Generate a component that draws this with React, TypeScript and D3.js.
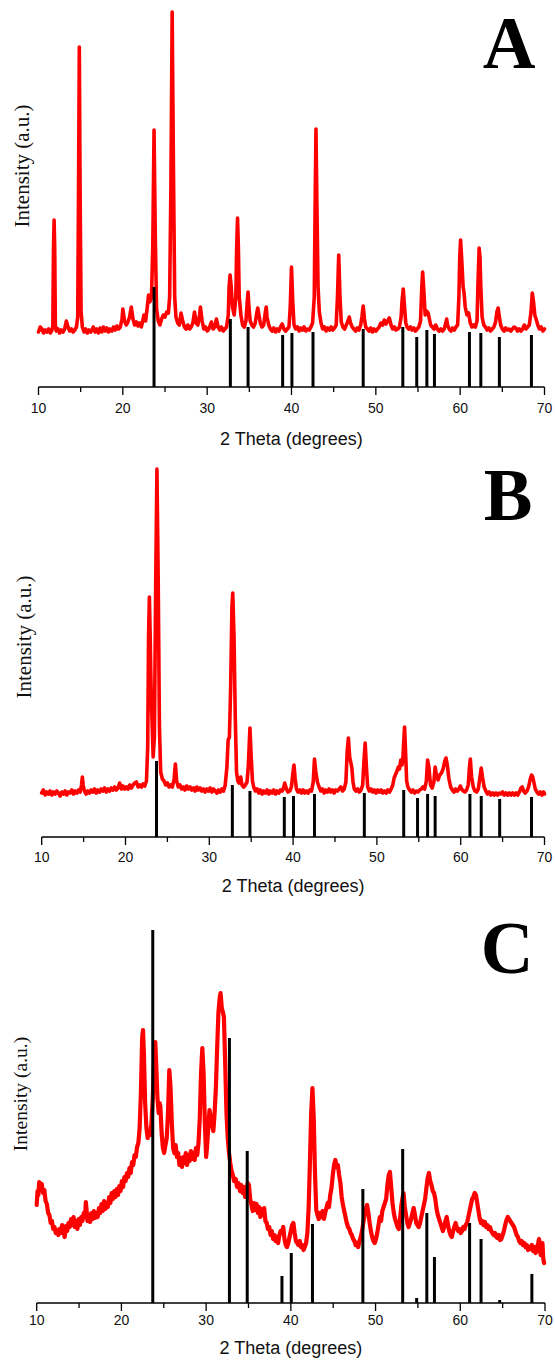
import React from "react";
import * as d3 from "d3";

// ---- data ----
const majorTicks = [10, 20, 30, 40, 50, 60, 70];
const minorTicks = [15, 25, 35, 45, 55, 65];
const panelLabels = ["A", "B", "C"];
const xTitle = "2 Theta (degrees)";
const yTitle = "Intensity (a.u.)";

// reference (stick) pattern positions, 2θ
const stickTheta = [23.7, 32.75, 34.85, 38.95, 40.05, 42.55, 48.5, 53.2, 54.85, 56.05, 56.95, 61.1, 62.45, 64.65, 68.45];
const stickA = [100, 68, 60, 52, 54, 55, 58, 60, 50, 57, 53, 55, 54, 50, 52];
const stickB = [76, 52, 46, 40, 41, 43, 44, 47, 39, 43, 41, 43, 41, 38, 40];
const stickC = [373, 265, 152, 27, 50, 79, 114, 154, 5, 90, 46, 80, 64, 3, 29];

const patternA: [number, number][] = [[10.0,55],[10.2,60],[10.4,58],[10.6,54],[10.8,57],[11.0,55],[11.2,58],[11.4,54],[11.6,57],[11.7,62],[11.78,140],[11.85,167],[11.92,140],[12.0,62],[12.1,56],[12.3,58],[12.5,54],[12.7,57],[12.9,55],[13.1,58],[13.3,66],[13.5,60],[13.7,56],[13.9,58],[14.1,55],[14.3,57],[14.5,60],[14.65,70],[14.75,200],[14.84,340],[14.93,200],[15.05,75],[15.2,60],[15.4,55],[15.6,58],[15.8,54],[16.0,57],[16.2,55],[16.5,60],[16.7,55],[16.9,58],[17.1,54],[17.3,59],[17.5,55],[17.7,60],[17.9,56],[18.1,59],[18.3,55],[18.5,58],[18.7,56],[18.9,60],[19.1,57],[19.3,61],[19.5,58],[19.7,60],[19.9,68],[20.0,78],[20.2,66],[20.4,62],[20.6,65],[20.8,70],[21.0,80],[21.2,68],[21.4,62],[21.6,65],[21.8,61],[22.0,64],[22.2,60],[22.5,72],[22.7,66],[22.9,80],[23.05,92],[23.2,85],[23.4,90],[23.55,140],[23.7,257],[23.85,150],[24.0,78],[24.2,66],[24.4,62],[24.6,68],[24.8,72],[25.0,70],[25.2,75],[25.4,74],[25.55,90],[25.7,200],[25.85,375],[26.0,220],[26.15,90],[26.3,70],[26.5,64],[26.7,62],[26.9,74],[27.1,66],[27.3,60],[27.5,58],[27.7,62],[27.9,58],[28.1,60],[28.3,64],[28.5,75],[28.7,64],[28.9,62],[29.1,72],[29.2,80],[29.4,66],[29.6,58],[29.8,60],[30.0,56],[30.2,58],[30.5,65],[30.7,58],[30.9,60],[31.1,68],[31.3,60],[31.5,57],[31.7,60],[31.9,56],[32.1,58],[32.3,60],[32.5,72],[32.6,100],[32.72,112],[32.85,100],[33.0,80],[33.2,72],[33.4,90],[33.5,140],[33.6,169],[33.7,140],[33.8,90],[34.0,72],[34.2,62],[34.4,60],[34.6,66],[34.75,85],[34.85,95],[34.95,80],[35.1,66],[35.3,62],[35.5,60],[35.7,64],[35.9,75],[36.0,79],[36.1,74],[36.3,64],[36.5,60],[36.7,62],[36.9,75],[37.0,80],[37.1,70],[37.3,62],[37.5,58],[37.7,56],[37.9,59],[38.1,55],[38.3,58],[38.5,56],[38.7,60],[38.9,63],[39.1,58],[39.3,56],[39.5,58],[39.7,60],[39.85,80],[40.0,120],[40.15,85],[40.3,62],[40.5,58],[40.7,60],[40.9,56],[41.1,59],[41.3,57],[41.5,60],[41.7,56],[41.9,58],[42.1,57],[42.3,60],[42.5,64],[42.7,90],[42.8,180],[42.9,258],[43.0,190],[43.15,100],[43.3,75],[43.5,64],[43.7,58],[43.9,60],[44.1,56],[44.3,59],[44.5,57],[44.7,60],[44.9,57],[45.1,59],[45.3,62],[45.45,90],[45.6,132],[45.75,90],[45.9,65],[46.1,60],[46.3,58],[46.5,62],[46.7,66],[46.85,70],[47.0,64],[47.2,60],[47.4,58],[47.6,56],[47.8,59],[48.0,57],[48.2,62],[48.35,70],[48.5,81],[48.65,68],[48.8,60],[49.0,58],[49.2,56],[49.4,59],[49.6,55],[49.8,58],[50.0,56],[50.2,58],[50.4,60],[50.6,64],[50.8,62],[51.0,67],[51.2,63],[51.4,66],[51.6,69],[51.8,62],[52.0,58],[52.2,60],[52.4,57],[52.6,58],[52.8,60],[53.0,70],[53.1,85],[53.25,98],[53.4,80],[53.55,64],[53.7,60],[53.9,58],[54.1,60],[54.3,57],[54.5,59],[54.7,56],[54.9,58],[55.1,60],[55.3,66],[55.45,100],[55.55,115],[55.7,95],[55.85,72],[56.0,76],[56.2,74],[56.35,68],[56.5,62],[56.7,60],[56.9,58],[57.1,62],[57.3,58],[57.5,56],[57.7,58],[57.9,56],[58.1,58],[58.3,64],[58.4,68],[58.5,62],[58.7,58],[58.9,56],[59.1,59],[59.3,57],[59.5,60],[59.7,62],[59.85,90],[59.95,130],[60.05,147],[60.2,125],[60.35,100],[60.45,95],[60.6,80],[60.8,72],[61.0,74],[61.2,64],[61.4,60],[61.6,62],[61.8,60],[62.0,66],[62.1,100],[62.25,139],[62.35,130],[62.45,100],[62.6,70],[62.8,62],[63.0,60],[63.2,57],[63.4,59],[63.6,56],[63.8,58],[64.0,60],[64.2,65],[64.35,75],[64.5,79],[64.65,70],[64.8,62],[65.0,58],[65.2,56],[65.4,59],[65.6,57],[65.8,58],[66.0,56],[66.2,58],[66.4,60],[66.6,59],[66.8,56],[67.0,58],[67.2,56],[67.4,58],[67.6,62],[67.8,58],[68.0,60],[68.2,62],[68.4,75],[68.55,94],[68.7,85],[68.85,72],[69.0,68],[69.2,62],[69.4,58],[69.6,60],[69.8,56],[70.0,58]];

const patternB: [number, number][] = [[10.0,44],[10.2,47],[10.4,42],[10.6,45],[10.8,43],[11.0,46],[11.2,42],[11.4,45],[11.6,43],[11.8,46],[12.0,44],[12.2,41],[12.4,45],[12.6,43],[12.8,46],[13.0,42],[13.2,45],[13.4,44],[13.6,47],[13.8,43],[14.0,46],[14.2,44],[14.4,47],[14.6,45],[14.75,52],[14.85,60],[14.95,52],[15.1,46],[15.3,43],[15.5,46],[15.7,44],[15.9,47],[16.1,45],[16.3,48],[16.5,44],[16.7,47],[16.9,45],[17.1,48],[17.3,46],[17.5,49],[17.7,45],[17.9,48],[18.1,46],[18.3,49],[18.5,47],[18.7,50],[18.9,47],[19.1,49],[19.3,54],[19.5,48],[19.7,51],[19.9,48],[20.1,50],[20.3,48],[20.5,52],[20.7,49],[20.9,52],[21.1,54],[21.3,55],[21.5,50],[21.7,52],[21.9,50],[22.1,53],[22.3,51],[22.5,56],[22.65,90],[22.75,200],[22.85,240],[22.95,200],[23.05,150],[23.15,120],[23.3,80],[23.45,100],[23.6,250],[23.75,368],[23.9,260],[24.05,110],[24.2,65],[24.4,58],[24.6,56],[24.8,52],[25.0,54],[25.2,50],[25.4,52],[25.6,50],[25.8,58],[25.95,73],[26.1,56],[26.3,50],[26.5,52],[26.7,48],[26.9,50],[27.1,47],[27.3,51],[27.5,48],[27.7,50],[27.9,47],[28.1,49],[28.3,46],[28.5,50],[28.7,47],[28.9,49],[29.1,46],[29.3,48],[29.5,45],[29.7,48],[29.9,46],[30.1,49],[30.3,45],[30.5,48],[30.7,46],[30.9,44],[31.1,47],[31.3,45],[31.5,48],[31.7,46],[31.9,52],[32.1,70],[32.25,97],[32.4,100],[32.55,150],[32.7,230],[32.8,244],[32.95,200],[33.1,120],[33.25,65],[33.4,56],[33.55,54],[33.75,60],[33.9,52],[34.1,50],[34.3,52],[34.5,55],[34.65,70],[34.85,109],[35.0,80],[35.15,56],[35.3,50],[35.5,46],[35.7,48],[35.9,44],[36.1,47],[36.3,43],[36.5,46],[36.7,44],[36.9,47],[37.1,43],[37.3,46],[37.5,44],[37.7,47],[37.9,43],[38.1,46],[38.3,44],[38.5,47],[38.7,46],[38.9,50],[39.0,54],[39.2,48],[39.4,45],[39.6,46],[39.8,50],[39.95,62],[40.1,72],[40.25,58],[40.4,48],[40.6,45],[40.8,47],[41.0,44],[41.2,47],[41.4,44],[41.6,46],[41.8,44],[42.0,47],[42.2,46],[42.4,55],[42.55,78],[42.7,66],[42.9,55],[43.1,50],[43.3,46],[43.5,48],[43.7,44],[43.9,47],[44.1,45],[44.3,48],[44.5,45],[44.7,47],[44.9,44],[45.1,47],[45.3,46],[45.5,48],[45.7,50],[45.9,46],[46.1,48],[46.3,55],[46.45,85],[46.6,99],[46.75,80],[46.9,74],[47.0,70],[47.15,55],[47.3,48],[47.5,46],[47.7,48],[47.9,45],[48.1,47],[48.3,52],[48.45,75],[48.6,94],[48.75,70],[48.9,50],[49.1,46],[49.3,48],[49.5,45],[49.7,47],[49.9,44],[50.1,47],[50.3,45],[50.5,47],[50.7,44],[50.9,46],[51.1,44],[51.3,47],[51.5,45],[51.7,48],[51.9,52],[52.05,59],[52.2,62],[52.4,66],[52.55,70],[52.7,68],[52.85,77],[53.0,72],[53.1,78],[53.2,95],[53.3,110],[53.4,90],[53.55,56],[53.7,50],[53.9,47],[54.1,45],[54.3,47],[54.5,44],[54.7,46],[54.9,45],[55.1,47],[55.3,48],[55.5,50],[55.7,48],[55.9,56],[56.05,77],[56.2,70],[56.4,52],[56.6,49],[56.8,55],[56.95,70],[57.1,62],[57.3,57],[57.5,62],[57.7,64],[57.9,68],[58.1,76],[58.25,79],[58.4,72],[58.6,58],[58.8,50],[59.0,47],[59.2,45],[59.4,48],[59.6,46],[59.8,48],[59.95,51],[60.1,48],[60.3,46],[60.5,45],[60.7,47],[60.9,52],[61.05,70],[61.15,78],[61.3,60],[61.5,50],[61.7,46],[61.9,45],[62.1,48],[62.3,60],[62.45,69],[62.6,60],[62.8,50],[63.0,46],[63.2,43],[63.4,45],[63.6,42],[63.8,44],[64.0,42],[64.2,44],[64.4,42],[64.6,44],[64.8,43],[65.0,45],[65.2,42],[65.4,44],[65.6,42],[65.8,44],[66.0,42],[66.2,44],[66.4,42],[66.6,44],[66.8,42],[67.0,45],[67.2,49],[67.35,50],[67.5,46],[67.7,44],[67.9,46],[68.1,50],[68.3,58],[68.45,62],[68.6,60],[68.75,54],[68.9,48],[69.1,45],[69.3,43],[69.5,45],[69.7,42],[69.9,45],[70.0,43]];

const patternC: [number, number][] = [[10.0,98],[10.1,112],[10.2,108],[10.3,121],[10.45,116],[10.6,119],[10.75,110],[10.9,113],[11.05,102],[11.2,99],[11.35,90],[11.5,88],[11.65,80],[11.8,82],[11.95,74],[12.1,76],[12.25,70],[12.4,73],[12.55,68],[12.7,74],[12.85,70],[13.0,78],[13.15,72],[13.3,66],[13.45,77],[13.6,72],[13.75,80],[13.9,76],[14.05,84],[14.2,78],[14.35,86],[14.5,76],[14.65,82],[14.8,74],[14.95,84],[15.1,78],[15.25,86],[15.4,82],[15.55,90],[15.7,86],[15.8,101],[15.9,92],[16.0,82],[16.15,88],[16.3,81],[16.45,90],[16.6,84],[16.75,92],[16.9,85],[17.05,90],[17.2,86],[17.35,95],[17.5,90],[17.65,99],[17.8,92],[17.95,102],[18.1,94],[18.25,100],[18.4,96],[18.55,106],[18.7,100],[18.85,110],[19.0,104],[19.15,112],[19.3,106],[19.45,114],[19.6,108],[19.75,117],[19.9,112],[20.05,122],[20.2,116],[20.35,126],[20.5,122],[20.65,130],[20.8,126],[20.95,135],[21.1,130],[21.25,141],[21.4,138],[21.55,148],[21.7,146],[21.85,156],[22.0,160],[22.15,175],[22.3,210],[22.45,265],[22.55,273],[22.65,250],[22.8,200],[22.95,175],[23.1,165],[23.25,172],[23.4,168],[23.55,180],[23.7,205],[23.85,240],[24.0,261],[24.1,240],[24.25,205],[24.4,190],[24.5,200],[24.6,196],[24.75,170],[24.9,155],[25.05,150],[25.2,158],[25.35,165],[25.5,190],[25.65,233],[25.8,215],[25.95,180],[26.1,155],[26.25,150],[26.4,158],[26.55,146],[26.7,150],[26.85,138],[27.0,145],[27.15,136],[27.3,146],[27.45,140],[27.6,150],[27.75,138],[27.9,148],[28.05,142],[28.2,152],[28.35,144],[28.5,150],[28.65,143],[28.8,155],[28.95,148],[29.1,160],[29.25,185],[29.4,230],[29.55,255],[29.7,230],[29.85,180],[30.0,146],[30.1,155],[30.25,175],[30.4,193],[30.55,185],[30.7,178],[30.85,172],[31.0,190],[31.15,215],[31.3,255],[31.45,290],[31.6,305],[31.7,310],[31.85,295],[32.0,290],[32.1,286],[32.25,240],[32.4,190],[32.55,165],[32.7,150],[32.85,140],[33.0,132],[33.15,128],[33.3,122],[33.5,124],[33.65,116],[33.8,120],[34.0,112],[34.15,118],[34.3,110],[34.45,116],[34.6,106],[34.75,112],[34.9,120],[35.05,118],[35.2,104],[35.35,98],[35.5,92],[35.65,100],[35.8,93],[35.95,99],[36.1,90],[36.25,96],[36.4,86],[36.55,94],[36.7,88],[36.85,95],[37.0,82],[37.15,80],[37.3,74],[37.45,76],[37.6,68],[37.75,72],[37.9,64],[38.05,68],[38.2,62],[38.35,66],[38.5,60],[38.65,68],[38.8,72],[38.95,70],[39.1,76],[39.25,64],[39.4,58],[39.55,56],[39.7,60],[39.85,66],[40.0,72],[40.15,78],[40.3,80],[40.45,70],[40.6,62],[40.75,60],[40.9,58],[41.05,62],[41.2,56],[41.35,58],[41.5,53],[41.65,56],[41.8,60],[41.95,70],[42.1,95],[42.25,140],[42.4,190],[42.55,215],[42.7,185],[42.85,130],[43.0,93],[43.15,88],[43.3,84],[43.45,90],[43.6,86],[43.75,92],[43.9,84],[44.05,90],[44.2,95],[44.35,100],[44.5,96],[44.65,108],[44.8,115],[44.95,128],[45.1,138],[45.25,143],[45.4,136],[45.55,138],[45.7,128],[45.85,120],[46.0,106],[46.15,98],[46.3,92],[46.45,86],[46.6,80],[46.75,76],[46.9,74],[47.05,70],[47.2,68],[47.35,64],[47.5,62],[47.65,58],[47.8,60],[47.95,56],[48.1,62],[48.25,66],[48.4,72],[48.55,80],[48.7,88],[48.85,94],[49.0,98],[49.15,90],[49.3,80],[49.45,72],[49.6,66],[49.75,62],[49.9,60],[50.05,64],[50.2,70],[50.35,78],[50.5,86],[50.65,82],[50.8,92],[50.95,96],[51.1,100],[51.25,104],[51.4,118],[51.55,128],[51.7,131],[51.85,115],[52.0,100],[52.15,90],[52.3,84],[52.45,80],[52.6,76],[52.75,74],[52.9,85],[53.05,98],[53.2,106],[53.3,110],[53.45,96],[53.6,88],[53.75,80],[53.9,76],[54.05,80],[54.2,84],[54.35,90],[54.5,95],[54.65,88],[54.8,80],[54.95,78],[55.1,76],[55.25,80],[55.4,86],[55.55,92],[55.7,98],[55.85,104],[56.0,115],[56.15,125],[56.3,130],[56.45,122],[56.6,118],[56.75,112],[56.9,110],[57.05,104],[57.2,94],[57.35,88],[57.5,84],[57.65,80],[57.8,76],[57.95,72],[58.1,76],[58.25,82],[58.4,86],[58.55,78],[58.7,72],[58.85,68],[59.0,66],[59.15,72],[59.3,76],[59.45,80],[59.6,75],[59.75,72],[59.9,74],[60.05,70],[60.2,72],[60.35,76],[60.5,74],[60.65,78],[60.8,80],[60.95,86],[61.1,92],[61.25,98],[61.4,104],[61.55,106],[61.7,110],[61.85,108],[62.0,100],[62.15,92],[62.3,84],[62.45,80],[62.6,82],[62.75,78],[62.9,81],[63.05,76],[63.2,78],[63.35,74],[63.5,76],[63.65,72],[63.8,70],[63.95,68],[64.1,70],[64.25,66],[64.4,65],[64.55,68],[64.7,63],[64.85,64],[65.0,68],[65.15,72],[65.3,78],[65.45,83],[65.6,86],[65.75,84],[65.9,82],[66.05,80],[66.2,78],[66.35,76],[66.5,72],[66.65,68],[66.8,66],[66.95,62],[67.1,60],[67.25,62],[67.4,58],[67.55,60],[67.7,56],[67.85,58],[68.0,53],[68.15,56],[68.3,54],[68.45,58],[68.6,52],[68.75,56],[68.9,50],[69.05,55],[69.2,60],[69.3,64],[69.4,52],[69.5,48],[69.6,56],[69.7,60],[69.8,44],[69.9,40]];

// ---- layout ----
type Panel = {
  label: string;
  data: [number, number][];
  sticks: number[];
  axisY: number;
  x0: number;
  x1: number;
  lineW: number;
  labelX: number;
  labelBase: number;
  tickOff: number;
  titleOff: number;
  yTitleX: number;
  yTitleY: number;
  yTitleSize: number;
};

const panels: Panel[] = [
  { label: panelLabels[0], data: patternA, sticks: stickA, axisY: 387, x0: 38.5, x1: 544.5, lineW: 3.6, labelX: 509, labelBase: 68, tickOff: 26, titleOff: 58, yTitleX: 29, yTitleY: 166, yTitleSize: 21 },
  { label: panelLabels[1], data: patternB, sticks: stickB, axisY: 837, x0: 41.7, x1: 544.5, lineW: 3.6, labelX: 508, labelBase: 520, tickOff: 25, titleOff: 55, yTitleX: 31, yTitleY: 637, yTitleSize: 21 },
  { label: panelLabels[2], data: patternC, sticks: stickC, axisY: 1303, x0: 36.7, x1: 545, lineW: 4.2, labelX: 507, labelBase: 973, tickOff: 22, titleOff: 51, yTitleX: 27, yTitleY: 1094, yTitleSize: 19.5 },
];

function PanelView({ p }: { p: Panel }) {
  const x = d3.scaleLinear().domain([10, 70]).range([p.x0, p.x1]);
  const y = d3.scaleLinear().domain([0, 375]).range([p.axisY, p.axisY - 375]);
  const line = d3
    .line<[number, number]>()
    .x((d) => x(d[0]))
    .y((d) => y(d[1]));
  return (
    <g>
      <path d={line(p.data) || ""} fill="none" stroke="#ff0000" strokeWidth={p.lineW} strokeLinejoin="round" strokeLinecap="round" />
      {stickTheta.map((t, i) => (
        <line key={i} x1={x(t)} x2={x(t)} y1={y(0)} y2={y(p.sticks[i])} stroke="#000" strokeWidth={3} />
      ))}
      <line x1={x(10)} x2={x(70)} y1={p.axisY} y2={p.axisY} stroke="#000" strokeWidth={1.3} />
      {majorTicks.map((t) => (
        <g key={"M" + t}>
          <line x1={x(t)} x2={x(t)} y1={p.axisY} y2={p.axisY + 8} stroke="#000" strokeWidth={1.3} />
          <text x={x(t)} y={p.axisY + p.tickOff} textAnchor="middle" fontFamily="'Liberation Sans', Arial, sans-serif" fontSize={14} fill="#111">
            {t}
          </text>
        </g>
      ))}
      {minorTicks.map((t) => (
        <line key={"m" + t} x1={x(t)} x2={x(t)} y1={p.axisY} y2={p.axisY + 5} stroke="#000" strokeWidth={1.3} />
      ))}
      <text x={(p.x0 + p.x1) / 2} y={p.axisY + p.titleOff} textAnchor="middle" fontFamily="'Liberation Sans', Arial, sans-serif" fontSize={18} fill="#111">
        {xTitle}
      </text>
      <text
        transform={`translate(${p.yTitleX},${p.yTitleY}) rotate(-90)`}
        textAnchor="middle"
        fontFamily="'Liberation Serif', 'Times New Roman', serif"
        fontSize={p.yTitleSize}
        fill="#111"
      >
        {yTitle}
      </text>
      <text x={p.labelX} y={p.labelBase} textAnchor="middle" fontFamily="'Liberation Serif', 'Times New Roman', serif" fontWeight="bold" fontSize={73} fill="#000">
        {p.label}
      </text>
    </g>
  );
}

export default function App() {
  return (
    <svg width={555} height={1360} style={{ position: "absolute", left: 0, top: 0, display: "block", background: "#fff" }}>
      <rect width={555} height={1360} fill="#fff" />
      {panels.map((p) => (
        <PanelView key={p.label} p={p} />
      ))}
    </svg>
  );
}
